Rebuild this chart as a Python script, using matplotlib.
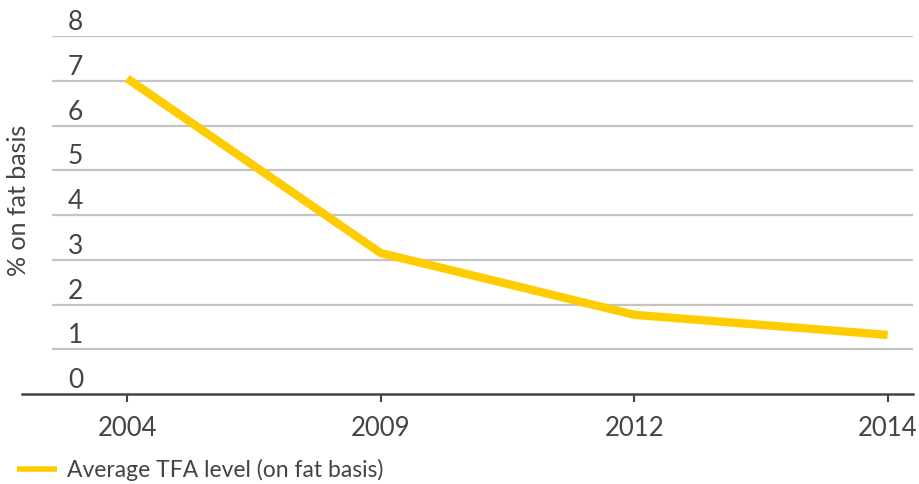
import matplotlib
matplotlib.use('Agg')
import matplotlib.pyplot as plt
from matplotlib.transforms import blended_transform_factory

plt.rcParams['font.family'] = ['Lato', 'DejaVu Sans']

years = ['2004', '2009', '2012', '2014']
tfa = [7.05, 3.15, 1.77, 1.32]
yticks = [0, 1, 2, 3, 4, 5, 6, 7, 8]

text_col = '#444444'
line_col = '#ffcc00'

fig = plt.figure(figsize=(9.19, 4.84), dpi=100)
ax = fig.add_axes([22/919, 1 - 394/484, 891/919, 358/484])

x = list(range(len(years)))
ax.plot(x, tfa, color=line_col, lw=6, solid_capstyle='butt', solid_joinstyle='round',
        label='Average TFA level (on fat basis)', zorder=3)

ax.set_xlim(-0.415, 3.10)
ax.set_ylim(0, 8)

# gridlines start a bit right of the baseline
for v in yticks[1:]:
    ax.axhline(v, xmin=31/891, xmax=1, color='#c4c4c4', lw=1.6, zorder=1)
ax.axhline(0, color='#444444', lw=1.8, zorder=2, clip_on=False)

# y labels sit just above their gridline
tr = blended_transform_factory(ax.transAxes, ax.transData)
for v in yticks:
    ax.text(46/891, v + 0.02, str(v), transform=tr, ha='left', va='bottom',
            fontsize=19, color=text_col)

ax.set_yticks([])
ax.set_xticks(x)
ax.set_xticklabels(years, fontsize=18.5, color=text_col)
ax.tick_params(axis='x', direction='out', length=6, width=1.5, color='#444444', pad=10)

for s in ax.spines.values():
    s.set_visible(False)

fig.text(19/919, 1 - 200/484, '% on fat basis', rotation=90, ha='center', va='center',
         fontsize=18, color=text_col)

leg = fig.legend(loc='lower left', bbox_to_anchor=(-4/919, -18/484), frameon=False,
                 fontsize=16.5, handlelength=1.75, handletextpad=0.45, labelcolor=text_col)
for h in leg.get_lines():
    h.set_linewidth(4)

fig.savefig('out.png', dpi=100)
